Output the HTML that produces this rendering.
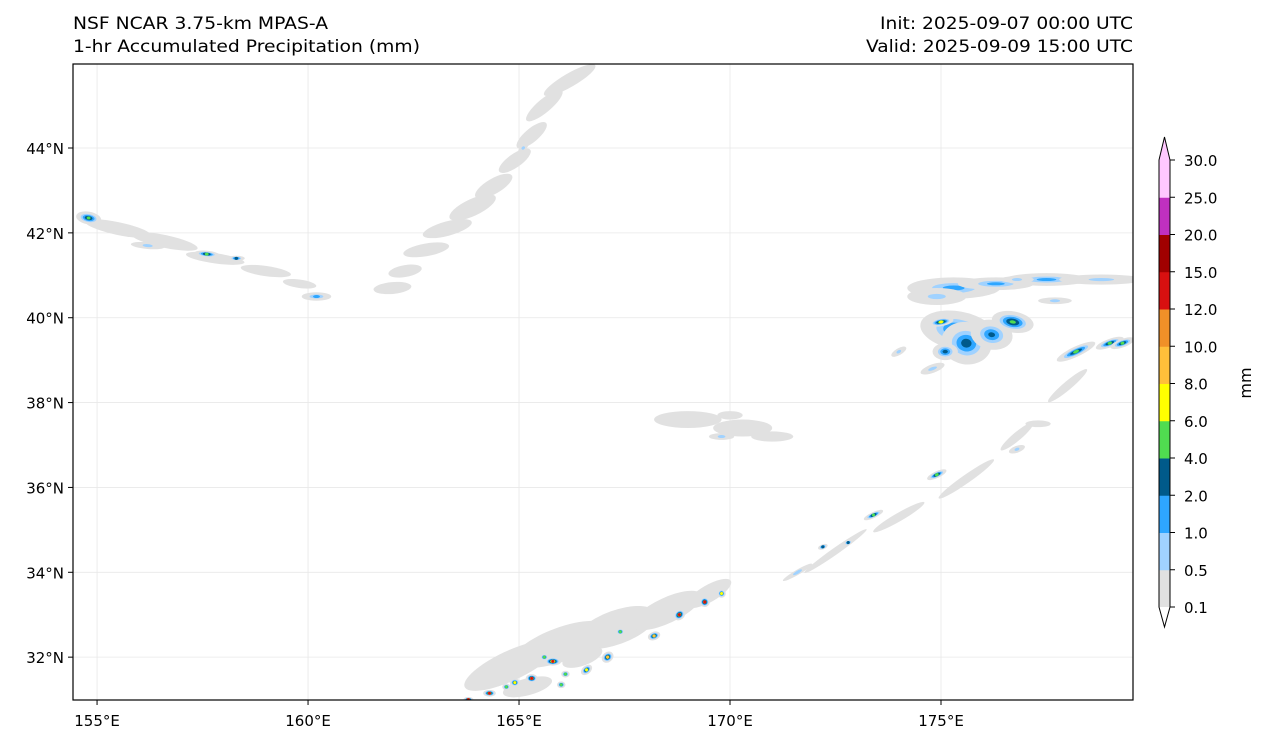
<!DOCTYPE html>
<html><head><meta charset="utf-8"><style>
body{margin:0;background:#fff;font-family:"DejaVu Sans","Liberation Sans",sans-serif;}
svg text{font-family:"DejaVu Sans","Liberation Sans",sans-serif;fill:#000;}
</style></head><body>
<svg id="chart" width="1268" height="745" viewBox="0 0 1268 745">
<text x="73" y="29" font-size="16.5" textLength="255" lengthAdjust="spacingAndGlyphs">NSF NCAR 3.75-km MPAS-A</text>
<text x="73" y="52" font-size="16.5" textLength="347" lengthAdjust="spacingAndGlyphs">1-hr Accumulated Precipitation (mm)</text>
<text x="880" y="29" font-size="16.5" textLength="253" lengthAdjust="spacingAndGlyphs">Init: 2025-09-07 00:00 UTC</text>
<text x="866" y="52" font-size="16.5" textLength="267" lengthAdjust="spacingAndGlyphs">Valid: 2025-09-09 15:00 UTC</text>
<defs><clipPath id="mapclip"><rect x="73" y="64" width="1060" height="636"/></clipPath></defs>
<g id="grid"></g>
<g id="precip" clip-path="url(#mapclip)"></g>
<rect x="73" y="64" width="1060" height="636" fill="none" stroke="#000" stroke-width="1.2"/>
<g id="axes"></g>
<g id="cbar"></g>
<text transform="translate(1251,383) rotate(-90)" font-size="16" text-anchor="middle">mm</text>
</svg>
<script>
const lonTicks=[155,160,165,170,175];
const latTicks=[32,34,36,38,40,42,44];
const levels=[0.1,0.5,1,2,4,6,8,10,12,15,20,25,30];
const colors=['#e1e1e1','#a0d2ff','#2ea6ff','#005a8a','#50dc50','#ffff00','#ffbf3a','#f09028','#d81010','#a00000','#c030c0','#ffc8ff'];
const topArrowColor='#ffc8ff';
// blobs: lon, lat, half-width(deg), half-height(deg), max mm, rotation(deg)
const blobLon=[166.2,165.6,165.3,164.9,164.4,163.9,163.3,162.8,162.3,162.0,165.1,
155.5,156.6,157.8,159.0,159.8,160.2,154.8,157.6,158.3,156.2,
175.3,174.9,176.3,177.5,178.8,175.4,175.6,176.2,176.7,175.1,175.0,178.2,179.0,179.3,176.8,177.7,
169.0,170.3,171.0,169.8,170.0,177.3,176.8,
172.5,174.0,175.6,176.8,178.0,174.9,173.4,172.2,172.8,171.6,
164.8,166.0,167.3,168.5,169.5,165.2,166.5,
163.8,164.3,164.9,165.3,165.8,166.1,166.6,167.1,168.2,168.8,169.4,169.8,165.6,167.4,166.0,164.7,
163.5,163.0,174.8,174.0];
const blobLat=[45.6,45.0,44.3,43.7,43.1,42.6,42.1,41.6,41.1,40.7,44.0,
42.1,41.8,41.4,41.1,40.8,40.5,42.35,41.5,41.4,41.7,
40.7,40.5,40.8,40.9,40.9,39.7,39.4,39.6,39.9,39.2,39.9,39.2,39.4,39.4,40.9,40.4,
37.6,37.4,37.2,37.2,37.7,37.5,36.9,
34.5,35.3,36.2,37.2,38.4,36.3,35.35,34.6,34.7,34.0,
31.8,32.3,32.7,33.1,33.5,31.3,32.0,
31.0,31.15,31.4,31.5,31.9,31.6,31.7,32.0,32.5,33.0,33.3,33.5,32.0,32.6,31.35,31.3,
30.4,30.6,38.8,39.2];
const blobW=[0.7,0.55,0.45,0.45,0.5,0.6,0.6,0.55,0.4,0.45,0.15,
0.8,0.8,0.7,0.6,0.4,0.35,0.3,0.3,0.2,0.4,
1.1,0.7,0.9,1.0,1.0,0.9,0.6,0.5,0.5,0.3,0.3,0.5,0.35,0.3,0.4,0.4,
0.8,0.7,0.5,0.3,0.3,0.3,0.2,
0.9,0.7,0.8,0.5,0.6,0.25,0.25,0.12,0.12,0.4,
1.2,1.2,1.0,0.9,0.6,0.6,0.5,
0.12,0.15,0.12,0.14,0.2,0.1,0.15,0.15,0.15,0.15,0.12,0.1,0.1,0.1,0.1,0.1,
0.5,0.3,0.3,0.2];
const blobH=[0.16,0.16,0.16,0.16,0.18,0.2,0.17,0.15,0.14,0.14,0.06,
0.15,0.15,0.12,0.12,0.1,0.1,0.15,0.08,0.06,0.08,
0.25,0.2,0.15,0.15,0.12,0.45,0.5,0.35,0.25,0.2,0.1,0.12,0.1,0.1,0.08,0.08,
0.2,0.2,0.12,0.08,0.1,0.08,0.08,
0.08,0.1,0.1,0.1,0.1,0.08,0.07,0.06,0.06,0.06,
0.35,0.4,0.4,0.3,0.2,0.2,0.2,
0.06,0.08,0.1,0.1,0.1,0.08,0.1,0.12,0.1,0.12,0.12,0.1,0.08,0.08,0.08,0.08,
0.15,0.12,0.1,0.08];
const blobMax=[0.3,0.3,0.3,0.3,0.3,0.3,0.3,0.3,0.3,0.3,0.8,
0.3,0.3,0.3,0.3,0.3,1.5,5,5,3,0.8,
1.5,0.8,1.5,1.5,0.8,3,3,2.5,5,3,8,5,5,5,0.8,0.8,
0.3,0.3,0.3,0.8,0.3,0.3,0.8,
0.3,0.3,0.3,0.3,0.3,6,5,4,3,0.8,
0.3,0.3,0.3,0.3,0.3,0.3,0.3,
14,14,8,14,14,5,8,10,10,14,14,8,6,6,6,5,
0.3,0.3,1,0.8];
const blobRot=[-30,-40,-40,-35,-30,-25,-15,-10,-10,-5,-40,
12,12,8,8,8,0,10,5,0,5,
0,0,0,0,0,10,10,10,10,0,-10,-25,-20,-20,0,0,
0,0,0,0,0,0,-20,
-35,-30,-35,-40,-40,-25,-25,-20,-20,-30,
-25,-20,-20,-25,-30,-15,-20,
0,0,0,0,0,0,-40,-40,-20,-40,-40,-40,0,0,0,0,
0,0,-20,-30];
const lon0=154.43,lon1=179.55,lat0=30.99,lat1=45.98,X0=73,X1=1133,Y0=64,Y1=700;
const xs=l=>X0+(l-lon0)/(lon1-lon0)*(X1-X0);
const ys=l=>Y1-(l-lat0)/(lat1-lat0)*(Y1-Y0);
const NS='http://www.w3.org/2000/svg';
function mk(t,a,p){const e=document.createElementNS(NS,t);for(const k in a)e.setAttribute(k,a[k]);p.appendChild(e);return e;}
const grid=document.getElementById('grid'),axes=document.getElementById('axes');
lonTicks.forEach(v=>{const x=xs(v);
const g=mk('line',{x1:x,x2:x,y1:Y0,y2:Y1,stroke:'#e8e8e8','stroke-width':0.8},grid);


const t=mk('line',{x1:x,x2:x,y1:Y1,y2:Y1+5,stroke:'#000'},axes);


const tx=mk('text',{x:x,y:Y1+26,'font-size':15,'text-anchor':'middle'},axes);tx.textContent=v+'°E';

});
latTicks.forEach(v=>{const y=ys(v);
const g=mk('line',{x1:X0,x2:X1,y1:y,y2:y,stroke:'#e8e8e8','stroke-width':0.8},grid);


const t=mk('line',{x1:X0-5,x2:X0,y1:y,y2:y,stroke:'#000'},axes);


const tx=mk('text',{x:X0-9,y:y+6,'font-size':15,'text-anchor':'end'},axes);tx.textContent=v+'°N';

});
const pr=document.getElementById('precip');const pxd=(X1-X0)/(lon1-lon0),pyd=(Y1-Y0)/(lat1-lat0);
for(let i=0;i<blobLon.length;i++){
  const cx=xs(blobLon[i]),cy=ys(blobLat[i]);
  for(let k=0;k<colors.length;k++){
    if(blobMax[i]<=levels[k])break;
    const s=k==0?1:Math.max(0.1,1-0.9*Math.log(levels[k]/0.1)/Math.log(blobMax[i]/0.1));
    const e=mk('ellipse',{cx:cx,cy:cy,rx:Math.max(1.5,blobW[i]*pxd*s),ry:Math.max(1.5,blobH[i]*pyd*s),fill:colors[k],transform:`rotate(${blobRot[i]} ${cx} ${cy})`},pr);
    
    
  }
}
const cb=document.getElementById('cbar');const cbx=1159,cbw=11,cbTop=160,cbBot=607;
const step=(cbBot-cbTop)/(levels.length-1);
colors.forEach((c,k)=>{const y=cbBot-(k+1)*step;
const r=mk('rect',{x:cbx,y:y,width:cbw,height:step+0.5,fill:c},cb);

});
const ta=mk('polygon',{points:`${cbx},${cbTop} ${cbx+cbw/2},${cbTop-23} ${cbx+cbw},${cbTop}`,fill:topArrowColor},cb);


mk('polygon',{points:`${cbx},${cbBot} ${cbx+cbw/2},${cbBot+20} ${cbx+cbw},${cbBot}`,fill:'#fff'},cb);
mk('polygon',{points:`${cbx},${cbTop} ${cbx+cbw/2},${cbTop-23} ${cbx+cbw},${cbTop} ${cbx+cbw},${cbBot} ${cbx+cbw/2},${cbBot+20} ${cbx},${cbBot}`,fill:'none',stroke:'#000','stroke-width':1},cb);
levels.forEach((v,k)=>{const y=cbBot-k*step;
const t=mk('line',{x1:cbx+cbw,x2:cbx+cbw+5,y1:y,y2:y,stroke:'#000'},cb);


const tx=mk('text',{x:cbx+cbw+14,y:y+6,'font-size':15},cb);tx.textContent=v.toFixed(1);

});
</script>
</body></html>
